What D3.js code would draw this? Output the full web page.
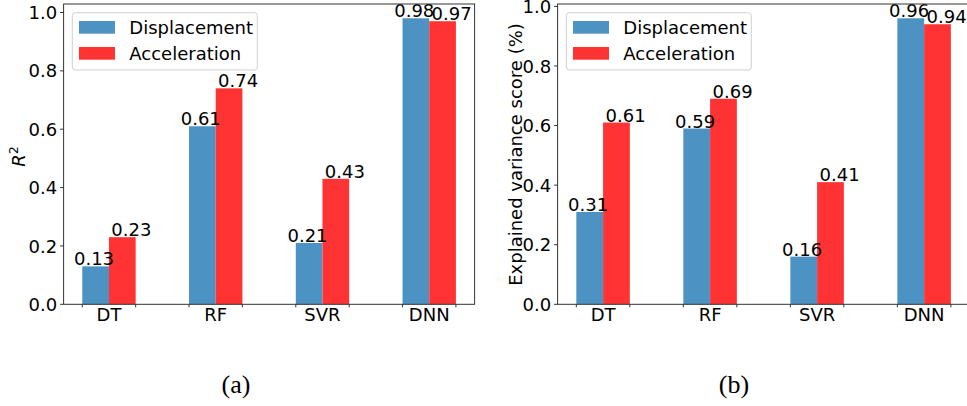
<!DOCTYPE html>
<html>
<head>
<meta charset="utf-8">
<script src="https://cdn.jsdelivr.net/npm/d3@7"></script>
<style>
  html, body { margin: 0; padding: 0; background: #fff; }
  svg { display: block; }
</style>
</head>
<body>
<svg id="chart" width="967" height="406" font-family="DejaVu Sans"></svg>
<script>
// ---- data ----
const categories = ["DT", "RF", "SVR", "DNN"];
const seriesNames = ["Displacement", "Acceleration"];
const r2Displacement = [0.13, 0.61, 0.21, 0.98];
const r2Acceleration = [0.23, 0.74, 0.43, 0.97];
const evsDisplacement = [0.31, 0.59, 0.16, 0.96];
const evsAcceleration = [0.61, 0.69, 0.41, 0.94];
const yTickValues = [0.0, 0.2, 0.4, 0.6, 0.8, 1.0];
const captions = ["(a)", "(b)"];

// ---- style ----
const colors = ["#4c92c3", "#ff3333"];
const FS = 18;
const FONT = "DejaVu Sans";
const svg = d3.select("#chart");

function txt(sel) {
  return sel.append("text").attr("font-family", FONT).attr("fill", "#000");
}

function drawPanel(cfg) {
  const { left, right, top, bottom, disp, acc, ylabel, ylabelX, ylabelY, caption, captionX } = cfg;
  const values = [disp, acc];
  const yMax = d3.max(disp.concat(acc)) * 1.05;
  const x = d3.scaleLinear().domain([-0.425, categories.length - 1 + 0.425]).range([left, right]);
  const y = d3.scaleLinear().domain([0, yMax]).range([bottom, top]);
  const bw = 0.25;
  const g = svg.append("g");

  // bars
  values.forEach((arr, s) => {
    g.selectAll(null).data(arr).enter().append("rect")
      .attr("x", (d, i) => x(i - bw + s * bw))
      .attr("width", x(bw) - x(0))
      .attr("y", d => y(d))
      .attr("height", d => y(0) - y(d))
      .attr("fill", colors[s]);
  });

  // bar labels
  const labelOff = [-0.14, 0.21];
  values.forEach((arr, s) => {
    g.selectAll(null).data(arr).enter().append("text")
      .attr("font-family", FONT)
      .attr("x", (d, i) => x(i + labelOff[s]))
      .attr("y", d => y(d) - 1)
      .attr("text-anchor", "middle")
      .attr("font-size", FS)
      .text(d => d3.format(".2f")(d));
  });

  // spines
  g.append("rect")
    .attr("x", left).attr("y", top)
    .attr("width", right - left).attr("height", bottom - top)
    .attr("fill", "none").attr("stroke", "#333").attr("stroke-width", 1);

  // y axis ticks
  yTickValues.forEach(v => {
    g.append("line").attr("x1", left - 3.5).attr("x2", left)
      .attr("y1", y(v)).attr("y2", y(v)).attr("stroke", "#333").attr("stroke-width", 1);
    txt(g).attr("x", left - 6.5).attr("y", y(v)).attr("dy", "0.37em")
      .attr("text-anchor", "end").attr("font-size", FS).text(d3.format(".1f")(v));
  });

  // x axis ticks and labels
  categories.forEach((c, i) => {
    [i - bw, i + bw].forEach(p => {
      g.append("line").attr("x1", x(p)).attr("x2", x(p))
        .attr("y1", bottom).attr("y2", bottom + 3).attr("stroke", "#333").attr("stroke-width", 1);
    });
    txt(g).attr("x", x(i)).attr("y", 320.5)
      .attr("text-anchor", "middle").attr("font-size", FS).text(c);
  });

  // y label
  const yl = txt(g)
    .attr("transform", `translate(${ylabelX},${ylabelY}) rotate(-90)`)
    .attr("text-anchor", "middle").attr("font-size", FS);
  ylabel(yl);

  // legend
  const lx = left + 8.7, ly = 12.7;
  g.append("rect").attr("x", lx).attr("y", ly).attr("width", 185).attr("height", 57.3)
    .attr("rx", 3).attr("fill", "#fff").attr("fill-opacity", 0.8)
    .attr("stroke", "#d0d0d0").attr("stroke-width", 1);
  seriesNames.forEach((n, s) => {
    g.append("rect").attr("x", lx + 6.7).attr("y", 21 + s * 26).attr("width", 36).attr("height", 12.7)
      .attr("fill", colors[s]);
    txt(g).attr("x", lx + 57).attr("y", 33.5 + s * 26)
      .attr("font-size", FS).text(n);
  });

  // caption
  svg.append("text").attr("x", captionX).attr("y", 393)
    .attr("text-anchor", "middle")
    .attr("font-family", "Liberation Serif")
    .attr("font-size", 26).text(caption);
}

drawPanel({
  left: 63.6, right: 474.6, top: 4, bottom: 304.3,
  disp: r2Displacement, acc: r2Acceleration,
  ylabel: t => {
    t.append("tspan").attr("font-style", "italic").text("R");
    t.append("tspan").attr("font-size", 12.5).attr("dy", -7).text("2");
  },
  ylabelX: 25, ylabelY: 156.5,
  caption: captions[0], captionX: 236
});

drawPanel({
  left: 557.6, right: 969.6, top: 4, bottom: 304.3,
  disp: evsDisplacement, acc: evsAcceleration,
  ylabel: t => t.text("Explained variance score (%)"),
  ylabelX: 521.5, ylabelY: 154.5,
  caption: captions[1], captionX: 734
});
</script>
</body>
</html>
